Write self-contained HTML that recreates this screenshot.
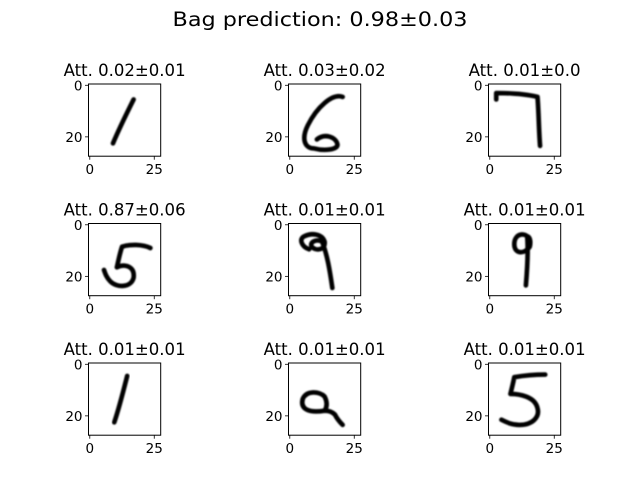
<!DOCTYPE html>
<html><head><meta charset="utf-8"><style>
body{margin:0;background:#fff}
svg{display:block;font-family:"DejaVu Sans","Liberation Sans",sans-serif}
</style></head><body>
<svg id="fig" width="640" height="480" viewBox="0 0 640 480">
<defs><filter id="blur" x="-20%" y="-20%" width="140%" height="140%"><feGaussianBlur stdDeviation="0.3"/></filter></defs>
<text x="320" y="26" font-size="19.5" text-anchor="middle" textLength="295" lengthAdjust="spacingAndGlyphs">Bag prediction: 0.98±0.03</text>
</svg>
<script>
const titles=["Att. 0.02±0.01","Att. 0.03±0.02","Att. 0.01±0.0","Att. 0.87±0.06","Att. 0.01±0.01","Att. 0.01±0.01","Att. 0.01±0.01","Att. 0.01±0.01","Att. 0.01±0.01"];
const titleWidths=[122,122,112,122,122,122,122,122,122];
const xTicks=[0,25];
const yTicks=[0,20];
const digits=[
"M17.5,6 C15,11 12,17 9.5,23",
"M21,5 C17,3.5 11,9 7.5,16 C5,21 6,25 10,25 C14,26 19,25.5 19,23.5 C18.5,20.5 14,19 11,21.5",
"M3,6 L3,3.5 C9,3.5 15,4 19,5 C19.5,11 19.5,18 20,24",
"M24,9.5 C21,8 16,8 13,9 C12,12 11.5,15 11,17 C14,15.5 18,16.5 17.5,21 C16.5,25 11,25 8.5,22.5 C7,21 6.5,19.5 6,18",
"M8,10 C5,9 4,6 6,5 C9,3.5 13,4 14,7 C14.5,10 11,11 9,9 C8,7 11,6 13,7 C15,12 16,18 17,25",
"M16,6 C14,3 10,4 10,8 C10,12 14,12 16,9 C16.5,7 16,5 15,5 C15.5,11 15,18 14.5,24",
"M15,5 C13.5,11 12,17 10,23",
"M14,13 C12,11 7,10.5 5.5,14 C4.5,18 8,19.5 14,18.5 C16,18.5 17,19 18,20 C19,22 20,23 21,24 M14,13 C15,15 15,17 14,18.5",
"M22,4.5 C18,4.5 13,5 10,5.5 C9.5,8 9,10 8.5,12 C12,12 18,13 19,17.5 C20,21 17,24 12,24 C9,24 7,23 5,22"
];
const NS="http://www.w3.org/2000/svg";
const svg=document.getElementById('fig');
const AX=72.2, N=28, PX=AX/N;
function ax(col){return 88.5+col*200;}
function ay(row){return 84+row*139.5;}
function mk(t,a,p){const e=document.createElementNS(NS,t);for(const k in a)e.setAttribute(k,a[k]);(p||svg).appendChild(e);return e;}
for(let i=0;i<9;i++){
  const r=Math.floor(i/3), c=i%3, L=ax(c), T=ay(r);
  const g=mk('g',{});
  
  
  const tt=mk('text',{x:L+AX/2,y:T-8,'font-size':16.5,'text-anchor':'middle',textLength:titleWidths[i],lengthAdjust:'spacingAndGlyphs'},g);
  tt.textContent=titles[i];
  
  
  const im=mk('g',{transform:`translate(${L},${T}) scale(${PX})`},g);
  
  
  const p=mk('path',{d:digits[i],fill:'none',stroke:'#000','stroke-width':1.8,'stroke-linecap':'round','stroke-linejoin':'round',filter:'url(#blur)'},im);
  
  
  const fr=mk('rect',{x:L,y:T,width:AX,height:AX,fill:'none',stroke:'#000','stroke-width':1},g);
  
  
  xTicks.forEach(v=>{const x=L+(v+0.5)*PX;
    mk('line',{x1:x,x2:x,y1:T+AX,y2:T+AX+3.5,stroke:'#000','stroke-width':0.8},g);
    const t=mk('text',{x:x,y:T+AX+18,'font-size':13.5,'text-anchor':'middle'},g);t.textContent=v;
    
    });
  yTicks.forEach(v=>{const y=T+(v+0.5)*PX;
    mk('line',{x1:L-3.5,x2:L,y1:y,y2:y,stroke:'#000','stroke-width':0.8},g);
    const t=mk('text',{x:L-6,y:y+5,'font-size':13.5,'text-anchor':'end'},g);t.textContent=v;
    
    });
}
</script>
</body></html>
